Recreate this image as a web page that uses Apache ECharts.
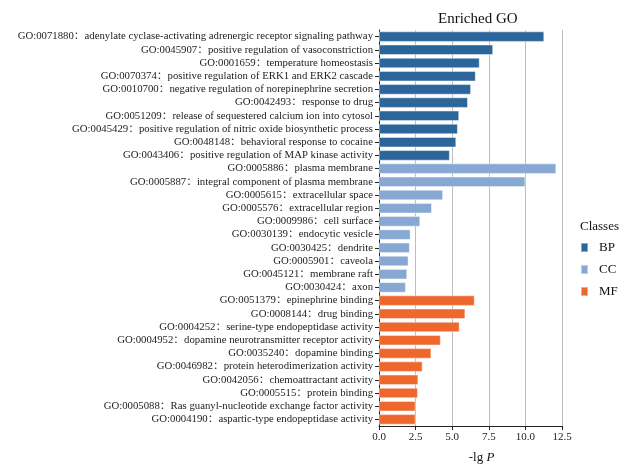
<!DOCTYPE html>
<html>
<head>
<meta charset="utf-8">
<script src="https://cdn.jsdelivr.net/npm/echarts@6/dist/echarts.min.js"></script>
<style>
  html, body { margin: 0; padding: 0; background: #fff; }
  #chart { width: 629px; height: 465px; }
</style>
</head>
<body>
<div id="chart"></div>
<script>
// GO terms, top to bottom
var terms = [
    "GO:0071880：adenylate cyclase-activating adrenergic receptor signaling pathway",
    "GO:0045907：positive regulation of vasoconstriction",
    "GO:0001659：temperature homeostasis",
    "GO:0070374：positive regulation of ERK1 and ERK2 cascade",
    "GO:0010700：negative regulation of norepinephrine secretion",
    "GO:0042493：response to drug",
    "GO:0051209：release of sequestered calcium ion into cytosol",
    "GO:0045429：positive regulation of nitric oxide biosynthetic process",
    "GO:0048148：behavioral response to cocaine",
    "GO:0043406：positive regulation of MAP kinase activity",
    "GO:0005886：plasma membrane",
    "GO:0005887：integral component of plasma membrane",
    "GO:0005615：extracellular space",
    "GO:0005576：extracellular region",
    "GO:0009986：cell surface",
    "GO:0030139：endocytic vesicle",
    "GO:0030425：dendrite",
    "GO:0005901：caveola",
    "GO:0045121：membrane raft",
    "GO:0030424：axon",
    "GO:0051379：epinephrine binding",
    "GO:0008144：drug binding",
    "GO:0004252：serine-type endopeptidase activity",
    "GO:0004952：dopamine neurotransmitter receptor activity",
    "GO:0035240：dopamine binding",
    "GO:0046982：protein heterodimerization activity",
    "GO:0042056：chemoattractant activity",
    "GO:0005515：protein binding",
    "GO:0005088：Ras guanyl-nucleotide exchange factor activity",
    "GO:0004190：aspartic-type endopeptidase activity"
];

// -lg P values per class
var bpVals = [11.29, 7.80, 6.88, 6.61, 6.29, 6.08, 5.48, 5.39, 5.28, 4.84];
var ccVals = [12.11, 10.0, 4.38, 3.62, 2.82, 2.16, 2.11, 2.02, 1.93, 1.84];
var mfVals = [6.54, 5.90, 5.51, 4.22, 3.58, 2.98, 2.69, 2.66, 2.50, 2.50];

var FONT = "'Liberation Serif', 'Noto Sans CJK SC', serif";

// put each class on its own rows, '-' elsewhere
function place(vals, offset) {
    var out = [];
    for (var i = 0; i < terms.length; i++) {
        var j = i - offset;
        out.push(j >= 0 && j < vals.length ? vals[j] : '-');
    }
    return out;
}

function barSeries(name, data, color) {
    return {
        name: name,
        type: 'bar',
        stack: 'go',
        data: data,
        barCategoryGap: '20%',
        itemStyle: {
            color: color,
            borderColor: 'rgba(255,255,255,0.45)',
            borderWidth: 1
        }
    };
}

var chart = echarts.init(document.getElementById('chart'));

var option = {
    animation: false,
    textStyle: { fontFamily: FONT },
    title: {
        text: 'Enriched GO',
        left: 433,
        top: 7,
        textStyle: { fontFamily: FONT, fontSize: 15, fontWeight: 'normal', color: '#111' }
    },
    legend: {
        data: ['BP', 'CC', 'MF'],
        orient: 'vertical',
        left: 580,
        top: 241,
        padding: 0,
        itemWidth: 7,
        itemHeight: 9,
        itemGap: 9,
        icon: 'rect',
        textStyle: { fontFamily: FONT, fontSize: 13, color: '#111', padding: [0, 0, 0, 6] }
    },
    graphic: [{
        type: 'text',
        left: 580,
        top: 220,
        style: { text: 'Classes', font: '13px ' + FONT, fill: '#111' }
    }],
    grid: { left: 379, right: 67, top: 30, bottom: 39, containLabel: false, outerBoundsMode: 'none' },
    xAxis: {
        type: 'value',
        min: 0,
        max: 12.5,
        interval: 2.5,
        name: '{a|-lg }{b|P}',
        nameLocation: 'middle',
        nameGap: 25,
        nameTextStyle: {
            padding: [0, 0, 0, 22],
            rich: {
                a: { fontFamily: FONT, fontSize: 13, color: '#111' },
                b: { fontFamily: FONT, fontSize: 13, fontStyle: 'italic', color: '#111' }
            }
        },
        axisLine: { show: true, lineStyle: { color: '#222', width: 1 } },
        axisTick: { show: true, length: 4, lineStyle: { color: '#222' } },
        axisLabel: {
            fontFamily: FONT, fontSize: 11, color: '#222', margin: 6,
            formatter: function (v) { return v.toFixed(1); }
        },
        splitLine: { show: true, lineStyle: { color: '#bdbdbd', width: 1 } }
    },
    yAxis: {
        type: 'category',
        data: terms,
        inverse: true,
        axisLine: { show: true, lineStyle: { color: '#222', width: 1 } },
        axisTick: { show: true, alignWithLabel: true, length: 4, lineStyle: { color: '#222' } },
        axisLabel: { fontFamily: FONT, fontSize: 10.75, color: '#222', margin: 6, interval: 0 }
    },
    series: [
        barSeries('BP', place(bpVals, 0), '#2c659a'),
        barSeries('CC', place(ccVals, 10), '#86a8d3'),
        barSeries('MF', place(mfVals, 20), '#ee682e')
    ]
};

chart.setOption(option);
</script>
</body>
</html>
